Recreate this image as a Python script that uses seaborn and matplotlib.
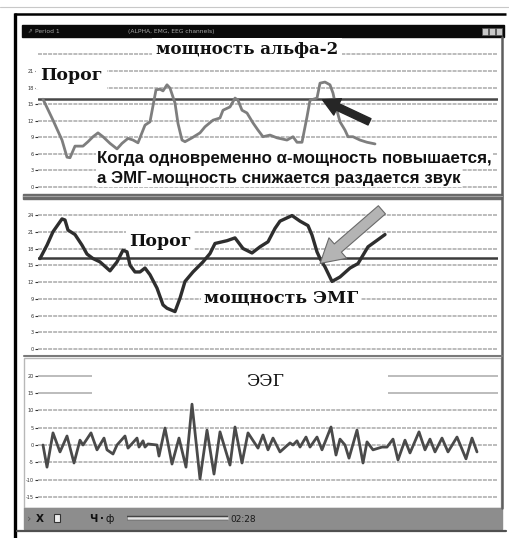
import matplotlib
matplotlib.use("Agg")
import matplotlib.pyplot as plt
from matplotlib.patches import Rectangle
import pandas as pd
import seaborn as sns

# ---------------------------------------------------------------- data
# alpha-2 power (sample index, power)
alpha_t = [1, 11, 20, 25, 28, 33, 41, 46, 51, 56, 61, 68, 75, 80, 86, 91, 96, 103, 108, 114,
           118, 121, 125, 128, 133, 136, 140, 143, 150, 158, 163, 171, 178, 181, 188, 193, 196, 200, 205, 211,
           216, 221, 228, 235, 245, 251, 255, 260, 265, 268, 275, 278, 283, 288, 291, 294, 298, 303, 306, 311,
           318, 325, 333]
alpha_v = [15.9, 12.1, 8.5, 5.4, 5.3, 7.4, 7.4, 8.2, 9.1, 9.8, 9.1, 7.9, 6.9, 7.9, 8.8, 8.5, 8.0, 11.2, 11.8, 17.6,
           17.7, 17.4, 18.5, 17.9, 15.2, 11.5, 8.5, 8.2, 8.9, 9.8, 10.9, 12.1, 12.5, 13.9, 14.5, 16.1, 15.7, 13.9, 13.4, 11.6,
           10.3, 9.1, 9.4, 8.9, 8.5, 9.1, 8.1, 8.1, 12.7, 15.7, 16.1, 18.8, 19.0, 18.5, 17.0, 14.5, 11.8, 10.3, 9.1, 9.1,
           8.5, 8.1, 7.8]
alpha_threshold = 16.0
alpha_ticks = [0, 3, 6, 9, 12, 15, 18, 21]
alpha_grid = [0, 3, 6, 9, 12, 15, 18, 21, 24]

# EMG power
emg_t = [-2, 5, 11, 20, 23, 26, 33, 40, 45, 51, 58, 68, 75, 81, 85, 88, 93, 98, 103, 108,
         115, 121, 125, 133, 138, 143, 151, 161, 168, 173, 185, 193, 201, 210, 218, 226, 233, 238, 250, 258,
         266, 270, 275, 278, 283, 290, 298, 308, 316, 321, 326, 333, 343]
emg_v = [16.2, 18.6, 21.0, 23.3, 23.1, 21.3, 20.5, 18.6, 17.0, 16.2, 15.6, 14.0, 15.6, 17.7, 17.4, 15.0, 13.8, 13.8, 14.5, 13.3,
         10.9, 7.9, 7.3, 6.7, 9.1, 12.1, 13.8, 15.6, 17.1, 18.9, 19.4, 19.9, 18.0, 17.2, 18.3, 19.2, 21.6, 22.9, 23.9, 22.9,
         22.1, 20.4, 17.4, 16.2, 14.7, 12.1, 12.9, 14.5, 15.3, 16.8, 18.3, 19.2, 20.5]
emg_threshold = 16.3
emg_ticks = [0, 3, 6, 9, 12, 15, 18, 21, 24]

# raw EEG
eeg_t = [1, 5, 11, 18, 25, 32, 38, 41, 49, 55, 62, 65, 71, 75, 83, 86, 95, 97, 101, 103,
         106, 115, 117, 123, 130, 137, 144, 150, 158, 165, 172, 178, 188, 193, 200, 206, 216, 221, 226, 231,
         238, 248, 251, 255, 258, 264, 268, 275, 280, 289, 294, 298, 303, 307, 315, 321, 325, 331, 340, 345,
         351, 356, 363, 368, 377, 383, 388, 393, 400, 406, 415, 424, 430, 435]
eeg_v = [0.0, -6.4, 3.5, -2.0, 2.6, -5.2, 1.4, 0.0, 3.5, -1.4, 2.0, -1.4, -2.6, 0.0, 2.6, -0.9, 2.0, -0.6, 1.2, -0.6,
         0.3, 0.0, -3.2, 4.9, -5.5, 2.0, -6.4, 11.8, -9.8, 4.3, -8.4, 3.8, -5.8, 5.2, -5.2, 3.5, -0.9, 2.9, -1.4, 2.0,
         -2.0, 0.6, 0.0, 1.2, -0.6, 2.3, -0.6, 2.3, -1.4, 5.2, -2.9, 1.7, 0.0, -3.8, 4.3, -5.2, 0.9, -1.4, -0.6, -0.6,
         1.7, -4.3, 1.4, -2.3, 3.8, -1.4, 1.7, -2.0, 2.0, -2.0, 2.3, -4.0, 2.0, -2.0]
eeg_ticks = [-15, -10, -5, 0, 5, 10, 15, 20]

window_title = "Period 1"
channels_caption = "(ALPHA, EMG, EEG channels)"
timer_label = "02:28"

# ---------------------------------------------------------------- style
sns.set_style("white")
plt.rcParams["font.family"] = ["DejaVu Sans"]
SERIF = ["DejaVu Serif", "DejaVu Sans"]
SANS = ["Liberation Sans", "DejaVu Sans"]
GRID = "#b6b6b6"
GRID_LS = (0, (2.2, 0.6))

W, H = 509, 538
fig = plt.figure(figsize=(W / 100, H / 100), dpi=100)
fig.patch.set_facecolor("white")


def box(x0, y0, x1, y1):
    return [x0 / W, 1 - y1 / H, (x1 - x0) / W, (y1 - y0) / H]


# window chrome drawn in pixel units
chrome = fig.add_axes([0, 0, 1, 1], zorder=0)
chrome.set_xlim(0, W)
chrome.set_ylim(H, 0)
chrome.axis("off")
px = chrome.transData

chrome.plot([0, W], [7, 7], color="#c8c8c8", lw=0.8)
chrome.plot([15.5, 15.5], [13, H], color="black", lw=2.4, solid_capstyle="butt")
chrome.plot([14, 506], [14, 14], color="black", lw=1.8, solid_capstyle="butt")
chrome.add_patch(Rectangle((22, 25), 482, 12, color="#0a0a0a"))
chrome.text(27, 31.2, "⇗", color="#9a9a9a", fontsize=4, va="center")
chrome.text(35, 31.2, window_title, color="#a8a8a8", fontsize=4.3, va="center")
chrome.text(128, 31.2, channels_caption, color="#a8a8a8", fontsize=4.3, va="center")
for xb in (482, 489, 496):
    chrome.add_patch(Rectangle((xb, 28), 6, 6.5, facecolor="#c8c8c8", edgecolor="#555", lw=0.5))
chrome.plot([502.5, 502.5], [37, 508], color="#5e5e5e", lw=1.8)
# splitter between alpha and EMG
chrome.add_patch(Rectangle((23, 193.5), 479, 5.5, color="#6a6a6a"))
chrome.plot([23, 502], [196.2, 196.2], color="#a0a0a0", lw=0.8)
# splitter and frame of the EEG pane
chrome.plot([24, 502], [355.5, 355.5], color="#7a7a7a", lw=1.5)
chrome.add_patch(Rectangle((24, 357.5), 477, 150, fill=False, edgecolor="#b8b8b8", lw=1))
# status bar
chrome.add_patch(Rectangle((24, 508), 478, 21, color="#8d8d8d"))
chrome.plot([17, 506], [531, 531], color="#505050", lw=1.6)
chrome.text(27, 519, "›", color="#5a5a5a", fontsize=8, va="center")
chrome.text(36, 519, "X", color="#111", fontsize=7.5, fontweight="bold", va="center")
chrome.add_patch(Rectangle((54, 514), 6, 8, facecolor="#eeeeee", edgecolor="#333", lw=0.8))
chrome.text(89, 519, "Ч", color="#111", fontsize=7.5, fontweight="bold", va="center")
chrome.text(100, 519, "·", color="#111", fontsize=7.5, fontweight="bold", va="center")
chrome.text(106, 519, "ф", color="#111", fontsize=7, va="center")
chrome.plot([127, 228], [518, 518], color="#444", lw=3.2, solid_capstyle="butt")
chrome.plot([127, 228], [518, 518], color="#e6e6e6", lw=1.8, solid_capstyle="butt")
chrome.text(230, 519, timer_label, color="#1a1a1a", fontsize=6.5, va="center",
            family=["Liberation Sans Narrow", "DejaVu Sans"])


def make_panel(y_top, y_bot, zero_px, px_per_unit, ticks, grid):
    ax = fig.add_axes(box(38, y_top, 498, y_bot), zorder=1)
    ax.set_xlim(-4, 456)
    ax.set_ylim((zero_px - y_bot) / px_per_unit, (zero_px - y_top) / px_per_unit)
    ax.patch.set_alpha(0)
    for s in ax.spines.values():
        s.set_visible(False)
    ax.set_xticks([])
    ax.set_yticks(ticks)
    ax.set_yticklabels([str(t) for t in ticks])
    ax.tick_params(axis="y", left=True, length=2.5, width=0.8, pad=0.6,
                   labelsize=3.6, colors="#333", direction="out")
    for g in grid:
        ax.axhline(g, color=GRID, lw=1.3, ls=GRID_LS, zorder=1)
    return ax


def label(ax, x, y, s, size, family, weight="bold", pad=1.5, ha="left"):
    ax.text(x, y, s, transform=px, fontsize=size, family=family, fontweight=weight,
            color="#111", va="center", ha=ha, zorder=3, clip_on=False,
            bbox=dict(facecolor="white", edgecolor="none", pad=pad))


# ---- alpha-2 pane
ax1 = make_panel(38, 193, 187, 16.57 / 3, alpha_ticks, alpha_grid)
ax1.axhline(alpha_threshold, color="#474747", lw=1.8, zorder=2)
sns.lineplot(data=pd.DataFrame({"t": alpha_t, "v": alpha_v}), x="t", y="v", ax=ax1,
             color="#7e7e7e", lw=2.0, estimator=None, sort=False, zorder=4)
ax1.set_xlabel("")
ax1.set_ylabel("")
label(ax1, 247, 50, "мощность альфа-2", 12.0, SERIF, ha="center", pad=2.5)
label(ax1, 40, 76, "Порог", 12.5, SERIF, pad=3)
label(ax1, 97, 158.5, "Когда одновременно α-мощность повышается,", 12.2, SANS, pad=0.8)
label(ax1, 97, 178, "а ЭМГ-мощность снижается раздается звук", 12.2, SANS, pad=0.8)
ax1.annotate("", xy=(278, alpha_threshold), xycoords="data",
             xytext=(372, 123), textcoords=px,
             arrowprops=dict(arrowstyle="simple,head_length=1.2,head_width=1.3,tail_width=0.5",
                             mutation_scale=10, facecolor="#262626", edgecolor="#262626"),
             zorder=6, annotation_clip=False)

# ---- EMG pane
ax2 = make_panel(200, 354, 349, 16.75 / 3, emg_ticks, emg_ticks)
ax2.axhline(emg_threshold, color="#3c3c3c", lw=1.8, zorder=2)
sns.lineplot(data=pd.DataFrame({"t": emg_t, "v": emg_v}), x="t", y="v", ax=ax2,
             color="#2e2e2e", lw=2.4, estimator=None, sort=False, zorder=4)
ax2.set_xlabel("")
ax2.set_ylabel("")
label(ax2, 129, 242, "Порог", 12.5, SERIF, pad=2)
label(ax2, 204, 298, "мощность ЭМГ", 12.5, SERIF, pad=2)
ax2.annotate("", xy=(276, 15.0), xycoords="data",
             xytext=(384, 208), textcoords=px,
             arrowprops=dict(arrowstyle="simple,head_length=1.3,head_width=1.5,tail_width=0.6",
                             mutation_scale=13, facecolor="#b4b4b4", edgecolor="#6a6a6a", lw=0.8),
             zorder=6, annotation_clip=False)

# ---- EEG pane
ax3 = make_panel(358, 506, 445, 17.3 / 5, eeg_ticks, [g for g in eeg_ticks if g < 15])
for g in (15, 20):
    ax3.hlines(g, -4, 50, color=GRID, lw=1.3, zorder=1)
    ax3.hlines(g, 346, 456, color=GRID, lw=1.3, zorder=1)
sns.lineplot(data=pd.DataFrame({"t": eeg_t, "v": eeg_v}), x="t", y="v", ax=ax3,
             color="#4a4a4a", lw=2.0, estimator=None, sort=False, zorder=4)
ax3.set_xlabel("")
ax3.set_ylabel("")
label(ax3, 265, 382, "ЭЭГ", 12.5, SERIF, weight="normal", ha="center", pad=1)

fig.savefig("out.png", dpi=100, facecolor="white")
